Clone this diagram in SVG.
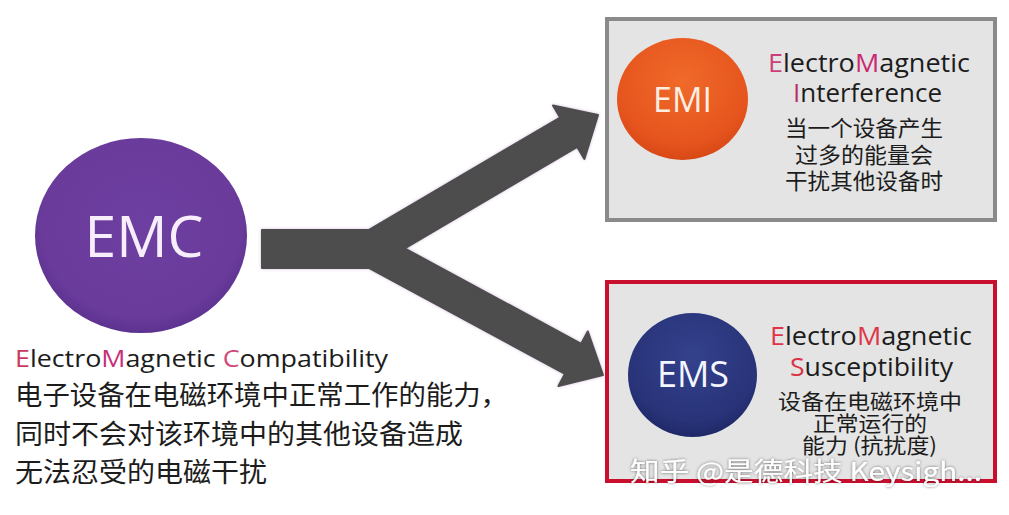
<svg xmlns="http://www.w3.org/2000/svg" width="1009" height="515" viewBox="0 0 1009 515">
<style>
.en{font-family:"Open Sans","Noto Sans","Noto Sans CJK SC",sans-serif;}
.cn{font-family:"Noto Sans CJK SC","Noto Sans",sans-serif;fill:#1c1c1c;}
.dark{fill:#1c1c1c;}
.box{fill:#e4e4e4;stroke-width:4;}
.arrow{fill:#4d4d4d;stroke:#4d4d4d;stroke-width:2;stroke-linejoin:round;}
</style>
<defs>
<radialGradient id="gEMC" cx="50%" cy="45%" r="55%">
<stop offset="0%" stop-color="#6d3fa0"/>
<stop offset="85%" stop-color="#6a3b9b"/>
<stop offset="100%" stop-color="#5c3290"/>
</radialGradient>
<radialGradient id="gEMI" cx="50%" cy="35%" r="65%">
<stop offset="0%" stop-color="#f06a2a"/>
<stop offset="80%" stop-color="#e5541d"/>
<stop offset="100%" stop-color="#d84816"/>
</radialGradient>
<radialGradient id="gEMS" cx="50%" cy="35%" r="65%">
<stop offset="0%" stop-color="#34418c"/>
<stop offset="80%" stop-color="#283378"/>
<stop offset="100%" stop-color="#1f2968"/>
</radialGradient>
<filter id="glow" x="-10%" y="-10%" width="120%" height="120%">
<feDropShadow dx="0" dy="0" stdDeviation="1.5" flood-color="#a070b0" flood-opacity="0.5"/>
</filter>
<filter id="wm" x="-5%" y="-20%" width="110%" height="140%">
<feDropShadow dx="0" dy="0" stdDeviation="1.6" flood-color="#000" flood-opacity="0.55"/>
</filter>
</defs>
<rect width="1009" height="515" fill="#ffffff"/>

<g id="connectors">
<polygon class="arrow" filter="url(#glow)" points="262,230 368.7,230 560.1,117.5 553,105.5 598,115 584.4,158.9 577.3,146.9 404.7,248.4 581.2,343.8 587.8,331.5 603,375 558.4,386.1 565,373.8 369.3,268 262,268"/>
</g>

<g id="emc">
<ellipse cx="141" cy="235.5" rx="106" ry="97.5" fill="url(#gEMC)"/>
<text class="en" x="144" y="257" font-size="57" fill="#f6eefa" text-anchor="middle">EMC</text>
<text class="en dark" x="15" y="367" font-size="24" textLength="373" lengthAdjust="spacingAndGlyphs"><tspan fill="#c83a62">E</tspan>lectro<tspan fill="#c8307a">M</tspan>agnetic <tspan fill="#cf4a7a">C</tspan>ompatibility</text>
<text class="cn" x="15" y="405" font-size="27" textLength="493" lengthAdjust="spacingAndGlyphs">电子设备在电磁环境中正常工作的能力，</text>
<text class="cn" x="15" y="444" font-size="27" textLength="448" lengthAdjust="spacingAndGlyphs">同时不会对该环境中的其他设备造成</text>
<text class="cn" x="15" y="482" font-size="27" textLength="252" lengthAdjust="spacingAndGlyphs">无法忍受的电磁干扰</text>
</g>

<g id="emi">
<rect class="box" x="607" y="19" width="388" height="201" stroke="#8a8a8a"/>
<ellipse cx="682.5" cy="99" rx="65.5" ry="61" fill="url(#gEMI)"/>
<text class="en" x="682.5" y="112" font-size="34" fill="#fdeee2" text-anchor="middle">EMI</text>
<text class="en dark" x="869" y="72" font-size="26" text-anchor="middle" textLength="202" lengthAdjust="spacingAndGlyphs"><tspan fill="#cc3f7a">E</tspan>lectro<tspan fill="#c92a72">M</tspan>agnetic</text>
<text class="en dark" x="867.5" y="102" font-size="26" text-anchor="middle" textLength="149" lengthAdjust="spacingAndGlyphs"><tspan fill="#b8306a">I</tspan>nterference</text>
<text class="cn" x="864" y="136" font-size="22" text-anchor="middle" textLength="158" lengthAdjust="spacingAndGlyphs">当一个设备产生</text>
<text class="cn" x="864" y="163" font-size="22" text-anchor="middle" textLength="138" lengthAdjust="spacingAndGlyphs">过多的能量会</text>
<text class="cn" x="864" y="189" font-size="22" text-anchor="middle" textLength="158" lengthAdjust="spacingAndGlyphs">干扰其他设备时</text>
</g>

<g id="ems">
<rect class="box" x="607" y="282" width="388" height="199" stroke="#c8102e"/>
<ellipse cx="692.5" cy="375" rx="64.5" ry="62" fill="url(#gEMS)"/>
<text class="en" x="693" y="387" font-size="36" fill="#f4f6ff" text-anchor="middle">EMS</text>
<text class="en dark" x="871" y="345" font-size="26" text-anchor="middle" textLength="202" lengthAdjust="spacingAndGlyphs"><tspan fill="#df3548">E</tspan>lectro<tspan fill="#df3548">M</tspan>agnetic</text>
<text class="en dark" x="871.5" y="376" font-size="26" text-anchor="middle" textLength="163" lengthAdjust="spacingAndGlyphs"><tspan fill="#dc3347">S</tspan>usceptibility</text>
<text class="cn" x="870" y="409" font-size="21" text-anchor="middle" textLength="184" lengthAdjust="spacingAndGlyphs">设备在电磁环境中</text>
<text class="cn" x="870" y="431" font-size="21" text-anchor="middle" textLength="114" lengthAdjust="spacingAndGlyphs">正常运行的</text>
<text class="cn" x="869.5" y="453" font-size="21" text-anchor="middle" textLength="135" lengthAdjust="spacingAndGlyphs">能力 (抗扰度)</text>
</g>

<text x="630" y="481" font-family="Noto Sans CJK SC, Noto Sans, sans-serif" font-size="26" fill="#ffffff" filter="url(#wm)" textLength="352" lengthAdjust="spacingAndGlyphs">知乎 @是德科技 Keysigh...</text>
</svg>
